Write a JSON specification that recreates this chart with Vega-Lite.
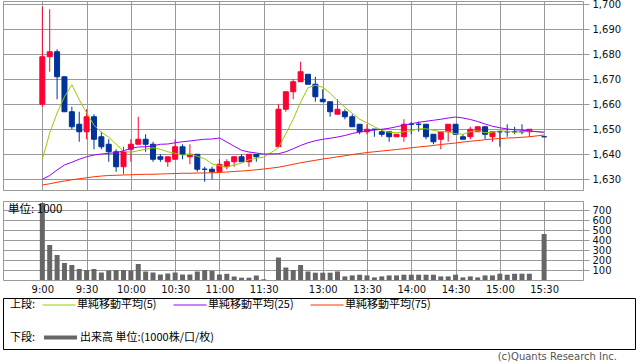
{
  "$schema": "https://vega.github.io/schema/vega-lite/v6.json",
  "autosize": {"type": "none"},
  "padding": {"left": 3, "top": 1, "right": 635, "bottom": 361},
  "background": "white",
  "data": {"name": "d"},
  "datasets": {
    "d": [
      {"n":0,"t":"9:00","o":1660,"h":1699,"l":1659,"c":1679,"v":770,"m5":1638,"m25":1630,"m75":1627.7},
      {"n":1,"t":"9:05","o":1679,"h":1698,"l":1673,"c":1681,"v":350,"m5":1648.5,"m25":1631.5,"m75":1628.2},
      {"n":2,"t":"9:10","o":1681,"h":1682,"l":1662,"c":1671,"v":250,"m5":1656.5,"m25":1633.7,"m75":1628.8},
      {"n":3,"t":"9:15","o":1671,"h":1671,"l":1657,"c":1657,"v":170,"m5":1663,"m25":1635.7,"m75":1629.3},
      {"n":4,"t":"9:20","o":1657,"h":1659,"l":1650,"c":1651,"v":150,"m5":1667.8,"m25":1636.8,"m75":1629.8},
      {"n":5,"t":"9:25","o":1652,"h":1657,"l":1645,"c":1649,"v":110,"m5":1661.8,"m25":1638,"m75":1630.2},
      {"n":6,"t":"9:30","o":1649,"h":1658,"l":1646,"c":1655,"v":100,"m5":1656.6,"m25":1639,"m75":1630.6},
      {"n":7,"t":"9:35","o":1655,"h":1656,"l":1642,"c":1646,"v":110,"m5":1651.6,"m25":1639.7,"m75":1631},
      {"n":8,"t":"9:40","o":1647,"h":1649,"l":1642,"c":1643,"v":75,"m5":1648.8,"m25":1640.1,"m75":1631.3},
      {"n":9,"t":"9:45","o":1644,"h":1646,"l":1637,"c":1641,"v":95,"m5":1646.8,"m25":1640.4,"m75":1631.5},
      {"n":10,"t":"9:50","o":1641,"h":1642,"l":1633,"c":1635,"v":100,"m5":1644,"m25":1640.6,"m75":1631.6},
      {"n":11,"t":"9:55","o":1635,"h":1643,"l":1632,"c":1641,"v":100,"m5":1641.2,"m25":1641.4,"m75":1631.7},
      {"n":12,"t":"10:00","o":1642,"h":1646,"l":1637,"c":1644,"v":95,"m5":1640.8,"m25":1642.4,"m75":1631.8},
      {"n":13,"t":"10:05","o":1644,"h":1655,"l":1644,"c":1646,"v":160,"m5":1641.4,"m25":1642.9,"m75":1631.9},
      {"n":14,"t":"10:10","o":1646,"h":1648,"l":1641,"c":1644,"v":85,"m5":1642,"m25":1643,"m75":1632},
      {"n":15,"t":"10:15","o":1644,"h":1645,"l":1637,"c":1638,"v":75,"m5":1642.6,"m25":1643.4,"m75":1632},
      {"n":16,"t":"10:20","o":1639,"h":1640,"l":1637,"c":1638,"v":55,"m5":1642,"m25":1644,"m75":1632.1},
      {"n":17,"t":"10:25","o":1637,"h":1639,"l":1635,"c":1639,"v":65,"m5":1641,"m25":1644.1,"m75":1632.2},
      {"n":18,"t":"10:30","o":1638,"h":1646,"l":1638,"c":1643,"v":75,"m5":1640.4,"m25":1644.6,"m75":1632.3},
      {"n":19,"t":"10:35","o":1643,"h":1644,"l":1638,"c":1640,"v":55,"m5":1639.6,"m25":1645,"m75":1632.4},
      {"n":20,"t":"10:40","o":1639,"h":1644,"l":1636,"c":1640,"v":55,"m5":1640,"m25":1645.3,"m75":1632.4},
      {"n":21,"t":"10:45","o":1640,"h":1640,"l":1633,"c":1634,"v":85,"m5":1639.2,"m25":1645.7,"m75":1632.5},
      {"n":22,"t":"10:50","o":1634,"h":1635,"l":1629,"c":1634,"v":100,"m5":1638.2,"m25":1646,"m75":1632.5},
      {"n":23,"t":"10:55","o":1634,"h":1635,"l":1630,"c":1633,"v":92,"m5":1636.2,"m25":1646.1,"m75":1632.6},
      {"n":24,"t":"11:00","o":1633,"h":1638,"l":1633,"c":1636,"v":55,"m5":1635.4,"m25":1646.5,"m75":1632.7},
      {"n":25,"t":"11:05","o":1635,"h":1638,"l":1634,"c":1637,"v":62,"m5":1634.8,"m25":1644.9,"m75":1632.9},
      {"n":26,"t":"11:10","o":1637,"h":1639,"l":1635,"c":1639,"v":35,"m5":1635.8,"m25":1643.2,"m75":1633.1},
      {"n":27,"t":"11:15","o":1639,"h":1640,"l":1637,"c":1637,"v":23,"m5":1636.4,"m25":1641.6,"m75":1633.3},
      {"n":28,"t":"11:20","o":1637,"h":1640,"l":1635,"c":1640,"v":23,"m5":1637.8,"m25":1640.9,"m75":1633.5},
      {"n":29,"t":"11:25","o":1640,"h":1640,"l":1637,"c":1639,"v":45,"m5":1638.4,"m25":1640.5,"m75":1633.8},
      {"n":30,"t":"11:30","v":7,"m5":1638.8,"m25":1640.1,"m75":1634.1},
      {"n":32,"t":"12:30","o":1643,"h":1660,"l":1643,"c":1658,"v":225,"m5":1642.6,"m25":1640.2,"m75":1634.8},
      {"n":33,"t":"12:35","o":1658,"h":1665,"l":1657,"c":1665,"v":125,"m5":1648.2,"m25":1641,"m75":1635.4},
      {"n":34,"t":"12:40","o":1665,"h":1670,"l":1662,"c":1669,"v":100,"m5":1654,"m25":1642.2,"m75":1636},
      {"n":35,"t":"12:45","o":1669,"h":1677,"l":1669,"c":1673,"v":150,"m5":1660.8,"m25":1643.5,"m75":1636.6},
      {"n":36,"t":"12:50","o":1672,"h":1672,"l":1668,"c":1668,"v":85,"m5":1666.6,"m25":1644.6,"m75":1637.1},
      {"n":37,"t":"12:55","o":1668,"h":1671,"l":1661,"c":1663,"v":73,"m5":1667.6,"m25":1645.4,"m75":1637.6},
      {"n":38,"t":"13:00","o":1662,"h":1666,"l":1661,"c":1661,"v":73,"m5":1666.8,"m25":1646,"m75":1638.1},
      {"n":39,"t":"13:05","o":1661,"h":1661,"l":1655,"c":1657,"v":73,"m5":1664.4,"m25":1646.4,"m75":1638.5},
      {"n":40,"t":"13:10","o":1656,"h":1662,"l":1656,"c":1658,"v":86,"m5":1661.4,"m25":1646.9,"m75":1639},
      {"n":41,"t":"13:15","o":1657,"h":1658,"l":1654,"c":1655,"v":36,"m5":1658.8,"m25":1647.5,"m75":1639.4},
      {"n":42,"t":"13:20","o":1655,"h":1656,"l":1651,"c":1651,"v":46,"m5":1656.4,"m25":1648.3,"m75":1639.9},
      {"n":43,"t":"13:25","o":1652,"h":1652,"l":1648,"c":1649,"v":53,"m5":1654,"m25":1648.9,"m75":1640.3},
      {"n":44,"t":"13:30","o":1649,"h":1652,"l":1648,"c":1650,"v":46,"m5":1652.6,"m25":1649.3,"m75":1640.7},
      {"n":45,"t":"13:35","o":1650,"h":1650,"l":1647,"c":1650,"v":26,"m5":1651,"m25":1649.7,"m75":1641},
      {"n":46,"t":"13:40","o":1649,"h":1650,"l":1647,"c":1648,"v":36,"m5":1649.6,"m25":1650,"m75":1641.3},
      {"n":47,"t":"13:45","o":1649,"h":1649,"l":1645,"c":1647,"v":46,"m5":1648.8,"m25":1650.4,"m75":1641.6},
      {"n":48,"t":"13:50","o":1647,"h":1648,"l":1647,"c":1648,"v":46,"m5":1648.6,"m25":1651,"m75":1641.9},
      {"n":49,"t":"13:55","o":1647,"h":1654,"l":1645,"c":1652,"v":53,"m5":1649,"m25":1651.7,"m75":1642.2},
      {"n":50,"t":"14:00","o":1652,"h":1653,"l":1648,"c":1652,"v":53,"m5":1649.4,"m25":1652.2,"m75":1642.6},
      {"n":51,"t":"14:05","o":1652,"h":1653,"l":1649,"c":1652,"v":53,"m5":1650.2,"m25":1652.8,"m75":1642.9},
      {"n":52,"t":"14:10","o":1652,"h":1652,"l":1646,"c":1647,"v":53,"m5":1650.2,"m25":1653.2,"m75":1643.2},
      {"n":53,"t":"14:15","o":1648,"h":1648,"l":1644,"c":1645,"v":53,"m5":1649.6,"m25":1653.6,"m75":1643.5},
      {"n":54,"t":"14:20","o":1646,"h":1649,"l":1642,"c":1649,"v":36,"m5":1649,"m25":1654,"m75":1643.9},
      {"n":55,"t":"14:25","o":1649,"h":1652,"l":1645,"c":1652,"v":36,"m5":1649,"m25":1654.5,"m75":1644.2},
      {"n":56,"t":"14:30","o":1652,"h":1652,"l":1648,"c":1648,"v":53,"m5":1648.2,"m25":1654.9,"m75":1644.5},
      {"n":57,"t":"14:35","o":1647,"h":1648,"l":1646,"c":1646,"v":26,"m5":1648,"m25":1654.5,"m75":1644.9},
      {"n":58,"t":"14:40","o":1647,"h":1651,"l":1646,"c":1650,"v":36,"m5":1649,"m25":1653.9,"m75":1645.2},
      {"n":59,"t":"14:45","o":1649,"h":1651,"l":1649,"c":1651,"v":26,"m5":1649.4,"m25":1653.1,"m75":1645.5},
      {"n":60,"t":"14:50","o":1651,"h":1651,"l":1646,"c":1648,"v":46,"m5":1648.6,"m25":1652.1,"m75":1645.8},
      {"n":61,"t":"14:55","o":1647,"h":1649,"l":1645,"c":1649,"v":46,"m5":1648.8,"m25":1651.2,"m75":1646.1},
      {"n":62,"t":"15:00","o":1649,"h":1649,"l":1643,"c":1649,"v":63,"m5":1649.4,"m25":1650.6,"m75":1646.3},
      {"n":63,"t":"15:05","o":1649,"h":1652,"l":1647,"c":1649,"v":53,"m5":1649.2,"m25":1650.1,"m75":1646.5},
      {"n":64,"t":"15:10","o":1649,"h":1651,"l":1648,"c":1649,"v":63,"m5":1648.8,"m25":1649.8,"m75":1646.6},
      {"n":65,"t":"15:15","o":1649,"h":1652,"l":1648,"c":1649,"v":63,"m5":1649,"m25":1649.6,"m75":1646.8},
      {"n":66,"t":"15:20","o":1649,"h":1650,"l":1647,"c":1650,"v":63,"m5":1649.2,"m25":1649.3,"m75":1647},
      {"n":68,"t":"15:30","o":1647,"h":1647,"l":1647,"c":1647,"v":460,"m5":1648.8,"m25":1648.8,"m75":1647.7}
    ]
  },
  "config": {
    "view": {"stroke": "#999999", "strokeWidth": 1},
    "axis": {"labelFont": "DejaVu Sans", "labelFontSize": 10, "labelColor": "#111111", "gridColor": "#999999", "gridWidth": 1, "gridOpacity": 1, "tickColor": "#999999", "domain": false, "labelOverlap": false}
  },
  "resolve": {"scale": {"color": "independent", "stroke": "independent"}, "legend": {"color": "independent", "stroke": "independent"}},
  "spacing": 2,
  "vconcat": [
    {
      "spacing": 11,
      "bounds": "flush",
      "vconcat": [
        {
          "width": 580,
          "height": 189,
          "layer": [
            {
              "transform": [{"filter": "isValid(datum.o)"}],
              "mark": {"type": "rule", "strokeWidth": 1},
              "encoding": {
                "x": {"field": "n", "type": "quantitative", "title": null, "scale": {"domain": [-5.33, 73.27], "nice": false, "zero": false, "padding": 0}, "axis": {"values": [0,6,12,18,24,30,38,44,50,56,62,68], "labels": false, "ticks": false, "grid": true}},
                "y": {"field": "l", "type": "quantitative", "title": null, "scale": {"domain": [1625.7, 1701.3], "nice": false, "zero": false, "padding": 0}, "axis": {"orient": "right", "values": [1630,1640,1650,1660,1670,1680,1690,1700], "labelExpr": "format(datum.value, ',')", "grid": true, "tickSize": 6, "labelPadding": 3, "labelOverlap": false}},
                "y2": {"field": "h"},
                "color": {"condition": {"test": "datum.c > datum.o", "value": "#ff0033"}, "value": "#003399"}
              }
            },
            {
              "transform": [{"filter": "isValid(datum.o)"}],
              "mark": {"type": "bar", "size": 5, "strokeWidth": 1},
              "encoding": {
                "x": {"field": "n", "type": "quantitative", "title": null, "axis": {"values": [0,6,12,18,24,30,38,44,50,56,62,68], "labels": false, "ticks": false, "grid": true}},
                "y": {"field": "o", "type": "quantitative", "title": null, "axis": {"orient": "right", "values": [1630,1640,1650,1660,1670,1680,1690,1700], "labelExpr": "format(datum.value, ',')", "grid": true, "tickSize": 6, "labelPadding": 3, "labelOverlap": false}},
                "y2": {"field": "c"},
                "fill": {"condition": {"test": "datum.c > datum.o", "value": "#ff0033"}, "value": "#003399"},
                "stroke": {"condition": {"test": "datum.c > datum.o", "value": "#ff0033"}, "value": "#003399"}
              }
            },
            {
              "transform": [{"fold": ["m5", "m25", "m75"], "as": ["k", "val"]}],
              "mark": {"type": "line", "strokeWidth": 1},
              "encoding": {
                "x": {"field": "n", "type": "quantitative", "title": null, "axis": {"values": [0,6,12,18,24,30,38,44,50,56,62,68], "labels": false, "ticks": false, "grid": true}},
                "y": {"field": "val", "type": "quantitative", "title": null, "axis": {"orient": "right", "values": [1630,1640,1650,1660,1670,1680,1690,1700], "labelExpr": "format(datum.value, ',')", "grid": true, "tickSize": 6, "labelPadding": 3, "labelOverlap": false}},
                "color": {"field": "k", "type": "nominal", "scale": {"domain": ["m5", "m25", "m75"], "range": ["#99cc00", "#9900ff", "#ff3300"]}, "legend": null},
                "order": {"field": "n", "type": "quantitative"}
              }
            }
          ]
        },
        {
          "width": 580,
          "height": 79,
          "title": {"text": "単位: 1000", "anchor": "start", "frame": "group", "offset": -14, "dx": 5, "font": "Noto Sans CJK JP", "fontSize": 11.5, "fontWeight": "normal", "color": "#000000"},
          "mark": {"type": "bar", "size": 5, "color": "#666666"},
          "encoding": {
            "x": {"field": "n", "type": "quantitative", "title": null, "scale": {"domain": [-5.33, 73.27], "nice": false, "zero": false, "padding": 0}, "axis": {"values": [0,6,12,18,24,30,38,44,50,56,62,68], "labelExpr": "['9:00','9:30','10:00','10:30','11:00','11:30','13:00','13:30','14:00','14:30','15:00','15:30'][indexof([0,6,12,18,24,30,38,44,50,56,62,68], datum.value)]", "ticks": false, "grid": true, "labelPadding": 4, "labelFlush": false, "labelOverlap": false}},
            "y": {"field": "v", "type": "quantitative", "title": null, "scale": {"domain": [0, 790], "nice": false, "padding": 0}, "axis": {"orient": "right", "values": [100,200,300,400,500,600,700], "grid": true, "tickSize": 6, "labelPadding": 3, "labelOverlap": false}}
          }
        }
      ]
    },
    {
      "width": 632,
      "height": 51,
      "view": {"stroke": "#000000"},
      "title": {"text": "(c)Quants Research Inc.", "orient": "bottom", "anchor": "end", "frame": "group", "offset": 3, "dx": -18, "font": "DejaVu Sans", "fontSize": 10, "fontWeight": "normal", "color": "#555555"},
      "transform": [{"filter": "false"}],
      "layer": [
        {
          "mark": {"type": "line"},
          "encoding": {
            "x": {"field": "n", "type": "quantitative", "axis": null},
            "y": {"field": "c", "type": "quantitative", "axis": null},
            "color": {"field": "t", "type": "nominal", "scale": {"domain": ["単純移動平均(5)", "単純移動平均(25)", "単純移動平均(75)"], "range": ["#99cc00", "#9900ff", "#ff3300"]},
              "legend": {"title": "上段:", "titleOrient": "left", "orient": "none", "legendX": 7, "legendY": 1, "direction": "horizontal", "symbolType": "M-1,0H5", "symbolSize": 121, "symbolStrokeWidth": 1, "labelOffset": 23, "titlePadding": 6, "columnPadding": 14, "labelFont": "Noto Sans CJK JP", "labelFontSize": 11, "labelColor": "#000000", "titleFont": "Noto Sans CJK JP", "titleFontSize": 11, "titleFontWeight": "normal", "titleColor": "#000000", "padding": 0, "labelLimit": 300}}
          }
        },
        {
          "mark": {"type": "line"},
          "encoding": {
            "x": {"field": "n", "type": "quantitative", "axis": null},
            "y": {"field": "c", "type": "quantitative", "axis": null},
            "stroke": {"field": "t", "type": "nominal", "scale": {"domain": ["出来高 単位:(1000株/口/枚)"], "range": ["#666666"]},
              "legend": {"title": "下段:", "titleOrient": "left", "orient": "none", "legendX": 7, "legendY": 32, "direction": "horizontal", "symbolType": "M-1,0H5", "symbolSize": 121, "symbolStrokeWidth": 4, "labelOffset": 23, "titlePadding": 6, "labelFont": "Noto Sans CJK JP", "labelFontSize": 11, "labelColor": "#000000", "titleFont": "Noto Sans CJK JP", "titleFontSize": 11, "titleFontWeight": "normal", "titleColor": "#000000", "padding": 0, "labelLimit": 300}}
          }
        }
      ]
    }
  ]
}
